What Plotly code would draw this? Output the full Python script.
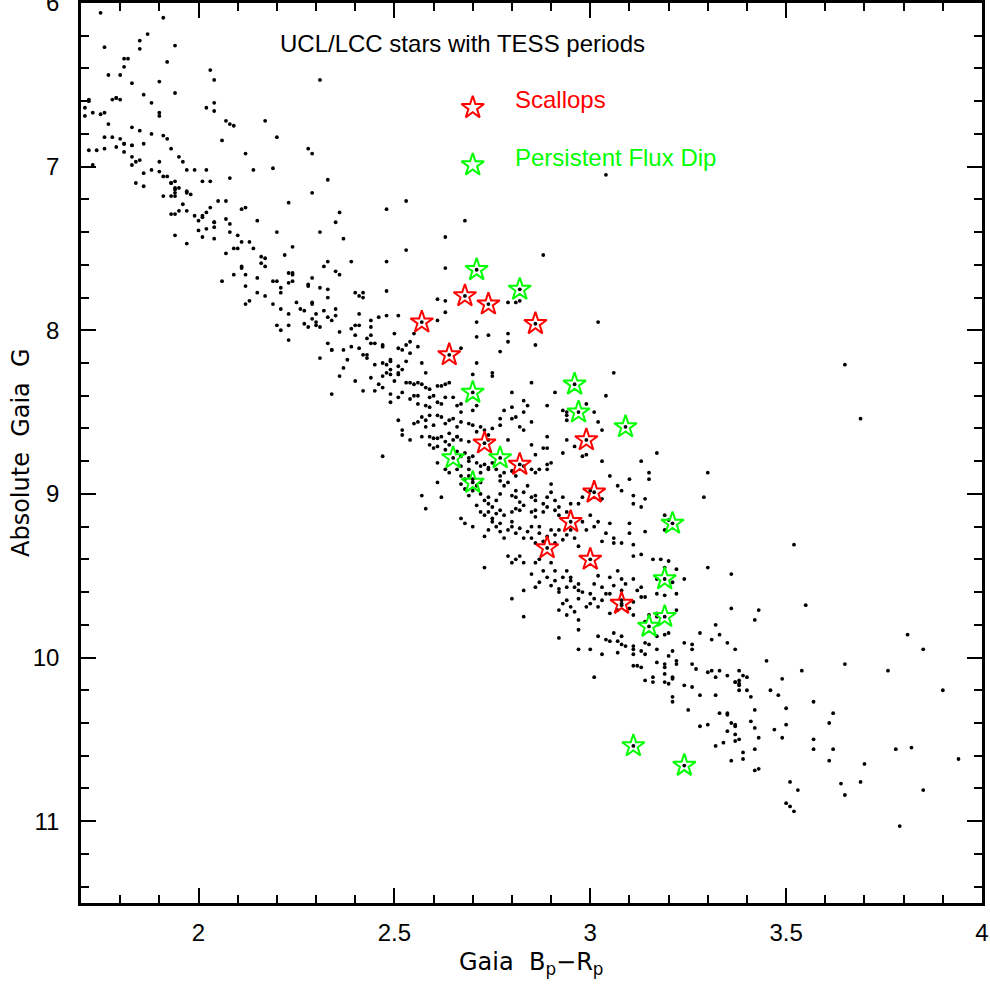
import plotly.graph_objects as go

# Field stars (Gaia Bp-Rp, absolute G)
field = [
 (1.75,6.06),(1.91,6.09),(1.76,6.27),(1.87,6.19),(1.85,6.23),(1.85,6.28),(1.94,6.26),(1.92,6.36),
 (1.82,6.34),(1.81,6.34),(1.81,6.39),(1.77,6.44),(1.80,6.44),(1.83,6.49),(1.90,6.48),(2.03,6.41),
 (2.04,6.47),(1.94,6.55),(1.86,6.56),(1.72,6.59),(1.72,6.60),(1.71,6.64),(1.73,6.67),(1.71,6.69),
 (1.75,6.68),(1.76,6.67),(1.78,6.59),(1.79,6.58),(1.79,6.58),(1.80,6.59),(1.88,6.61),(1.90,6.67),
 (1.90,6.69),(2.02,6.64),(2.04,6.61),(2.04,6.66),(1.77,6.74),(2.07,6.72),(2.08,6.74),(2.09,6.75),
 (2.17,6.72),(2.31,6.47),(1.83,6.76),(1.76,6.82),(1.78,6.82),(1.85,6.78),(1.88,6.80),(1.91,6.81),
 (1.92,6.83),(1.80,6.83),(1.81,6.86),(1.81,6.86),(1.83,6.87),(1.83,6.87),(1.86,6.86),(1.72,6.90),
 (1.74,6.90),(1.76,6.89),(1.79,6.88),(1.81,6.91),(1.83,6.94),(1.84,6.97),(1.85,6.96),(1.83,6.99),
 (1.73,6.99),(1.93,6.89),(1.95,6.94),(1.96,6.97),(1.90,6.97),(1.90,7.03),(1.86,7.04),(1.88,7.02),
 (1.91,7.06),(1.92,7.06),(1.93,7.10),(1.93,7.10),(1.94,7.09),(1.94,7.13),(1.94,7.14),(1.94,7.16),
 (1.93,7.18),(1.94,7.18),(1.95,7.13),(1.97,7.15),(1.97,7.16),(1.98,7.17),(1.84,7.10),(1.86,7.12),
 (1.97,7.02),(1.99,7.02),(2.02,7.02),(2.03,7.09),(2.01,7.09),(2.06,6.84),(2.08,7.07),(2.12,6.92),
 (2.14,7.02),(2.19,7.01),(2.20,6.82),(2.28,6.89),(2.29,6.92),(2.29,7.16),(2.23,7.22),(2.20,7.40),
 (2.31,7.40),(2.33,7.08),(1.91,7.18),(1.93,7.29),(1.94,7.29),(1.95,7.27),(1.96,7.23),(1.97,7.27),
 (2.05,7.21),(2.07,7.21),(2.03,7.25),(2.02,7.28),(2.00,7.33),(1.99,7.30),(2.01,7.30),(2.01,7.31),
 (2.00,7.39),(2.01,7.43),(2.02,7.38),(2.04,7.37),(2.04,7.34),(2.04,7.34),(2.04,7.44),(1.94,7.42),
 (1.97,7.47),(2.07,7.32),(2.08,7.35),(2.08,7.40),(2.10,7.42),(2.09,7.50),(2.10,7.50),(2.11,7.26),
 (2.12,7.25),(2.11,7.46),(2.13,7.46),(2.14,7.50),(2.15,7.33),(2.07,7.53),(2.16,7.55),(2.17,7.56),
 (2.16,7.59),(2.17,7.61),(2.11,7.61),(2.11,7.62),(2.09,7.66),(2.12,7.66),(2.15,7.68),(2.06,7.70),
 (2.12,7.73),(2.12,7.84),(2.13,7.82),(2.15,7.77),(2.17,7.79),(2.19,7.84),(2.19,7.70),(2.20,7.70),
 (2.22,7.54),(2.21,7.77),(2.21,7.74),(2.24,7.49),(2.23,7.65),(2.24,7.66),(2.24,7.65),(2.24,7.70),
 (2.23,7.71),(2.25,7.83),(2.26,7.87),(2.27,7.88),(2.21,7.87),(2.23,7.90),(2.28,7.73),(2.28,7.72),
 (2.29,7.68),(2.31,7.74),(2.33,7.75),(2.33,7.80),(2.33,7.58),(2.32,7.61),(2.29,7.84),(2.29,7.83),
 (2.30,7.90),(2.29,7.93),(2.30,7.95),(2.31,7.98),(2.32,7.88),(2.33,7.92),(2.20,7.97),(2.23,7.97),
 (2.27,7.96),(2.28,7.98),(2.30,7.97),
 (2.35,7.34),(2.36,7.28),(2.37,7.44),(2.39,7.58),(2.35,7.64),(2.36,7.66),(2.40,7.77),(2.41,7.79),
 (2.42,7.77),(2.42,7.80),(2.48,7.26),(2.53,7.21),(2.53,7.51),(2.48,7.58),(2.48,7.76),(2.68,7.33),
 (2.63,7.43),(2.63,7.62),(2.61,7.81),(2.63,7.82),(2.63,7.89),(2.61,7.94),(2.71,7.95),(2.79,7.83),
 (2.81,7.83),(2.82,7.82),(2.88,7.54),(3.02,7.95),(3.04,7.05),(2.35,7.87),(2.35,7.91),(2.34,7.94),
 (2.41,7.90),(2.40,7.97),(2.41,7.97),(2.44,7.94),(2.46,7.92),(2.48,7.91),(2.51,7.91),(2.44,7.98),
 (2.39,7.99),
 (2.21,8.00),(2.23,8.06),(2.31,8.17),(2.33,8.08),(2.34,8.12),
 (2.36,8.01),(2.40,8.03),(2.44,8.03),(2.43,8.05),(2.50,8.02),(2.55,8.02),(2.71,8.04),(2.74,8.03),
 (2.79,8.02),(2.79,8.07),(2.86,8.09),(2.37,8.12),(2.39,8.10),(2.34,8.12),(2.41,8.11),(2.44,8.08),
 (2.45,8.08),(2.47,8.10),(2.47,8.09),(2.51,8.11),(2.52,8.12),(2.53,8.09),(2.54,8.07),(2.56,8.10),
 (2.67,8.11),(2.77,8.13),(2.42,8.15),(2.43,8.15),(2.43,8.17),(2.38,8.18),(2.45,8.21),(2.47,8.20),
 (2.48,8.21),(2.49,8.18),(2.49,8.19),(2.51,8.22),(2.54,8.14),(2.53,8.19),(2.57,8.20),(2.71,8.20),
 (2.58,8.26),(2.37,8.23),(2.36,8.28),(2.40,8.31),(2.44,8.29),(2.46,8.33),(2.47,8.28),(2.48,8.26),
 (2.49,8.27),(2.50,8.31),(2.49,8.24),(2.51,8.26),(2.51,8.27),(2.52,8.24),(2.53,8.32),(2.54,8.32),
 (2.55,8.33),(2.56,8.32),(2.57,8.33),(2.58,8.35),(2.59,8.36),(2.61,8.34),(2.62,8.34),(2.63,8.33),
 (2.64,8.32),(2.70,8.27),(2.75,8.26),(2.75,8.28),(2.85,8.32),(2.91,8.38),(3.06,8.26),(3.04,8.40),
 (2.42,8.37),(2.45,8.37),(2.47,8.35),(2.49,8.39),(2.49,8.44),(2.51,8.41),(2.52,8.38),(2.54,8.42),
 (2.55,8.40),(2.56,8.40),(2.56,8.45),(2.58,8.46),(2.59,8.41),(2.59,8.47),(2.60,8.40),(2.61,8.44),
 (2.62,8.45),(2.63,8.41),(2.65,8.41),(2.66,8.46),(2.67,8.50),(2.67,8.45),(2.65,8.54),(2.70,8.49),
 (2.71,8.46),(2.80,8.38),(2.83,8.43),(2.84,8.46),(2.78,8.49),(2.80,8.47),(2.83,8.50),(2.89,8.46),
 (2.93,8.49),(2.94,8.52),(2.94,8.50),(2.94,8.55),(2.99,8.45),(3.01,8.50),(3.02,8.56),(2.34,8.39),
 (2.51,8.55),(2.52,8.61),(2.52,8.64),(2.54,8.67),(2.55,8.57),(2.56,8.56),(2.57,8.53),(2.58,8.59),
 (2.58,8.55),(2.59,8.52),(2.60,8.58),(2.61,8.52),(2.62,8.53),(2.63,8.57),(2.64,8.55),(2.66,8.59),
 (2.67,8.56),(2.69,8.57),(2.70,8.58),(2.71,8.62),(2.72,8.59),(2.73,8.61),(2.74,8.64),(2.74,8.67),
 (2.75,8.60),(2.77,8.58),(2.77,8.54),(2.80,8.54),(2.81,8.53),(2.82,8.59),(2.85,8.56),(2.83,8.61),
 (2.79,8.67),(2.57,8.65),(2.59,8.65),(2.60,8.66),(2.61,8.66),(2.62,8.65),(2.63,8.68),(2.64,8.63),
 (2.65,8.67),(2.66,8.65),(2.66,8.65),(2.67,8.67),(2.69,8.68),(2.89,8.65),(2.94,8.67),(3.03,8.61),
 (2.98,8.77),(2.99,8.76),(3.17,8.75),
 (2.47,8.77),(2.59,8.70),(2.60,8.72),(2.61,8.71),(2.63,8.73),(2.64,8.70),(2.66,8.74),(2.67,8.77),
 (2.68,8.75),(2.69,8.80),(2.69,8.78),(2.70,8.77),(2.71,8.81),(2.72,8.83),(2.73,8.82),(2.74,8.85),
 (2.74,8.84),(2.75,8.81),(2.69,8.85),(2.67,8.83),(2.61,8.81),(2.63,8.85),(2.64,8.87),(2.66,8.85),
 (2.67,8.89),(2.68,8.91),(2.69,8.89),(2.70,8.91),(2.72,8.93),(2.72,8.87),(2.76,8.85),(2.77,8.89),
 (2.77,8.92),(2.78,8.87),(2.80,8.86),(2.81,8.89),(2.83,8.83),(2.85,8.70),(2.86,8.76),(2.88,8.72),
 (2.89,8.72),(2.85,8.85),(2.86,8.87),(2.87,8.85),(2.89,8.82),(2.89,8.85),(2.90,8.81),(2.93,8.75),
 (2.96,8.71),(3.03,8.80),(3.13,8.80),(3.15,8.87),(3.15,8.91),
 (2.57,9.01),(2.58,9.09),(2.61,8.93),(2.62,9.02),(2.67,8.94),(2.68,8.97),(2.69,9.01),(2.70,8.98),
 (2.71,8.95),(2.72,9.00),(2.73,9.04),(2.74,9.06),(2.74,9.02),(2.75,9.08),(2.76,9.04),(2.77,9.00),
 (2.78,8.95),(2.79,8.93),(2.80,9.01),(2.81,8.98),(2.81,9.02),(2.82,9.05),(2.83,8.99),(2.84,8.95),
 (2.85,9.02),(2.86,9.04),(2.86,9.01),(2.88,9.06),(2.89,9.02),(2.90,8.94),(2.90,8.99),(2.91,9.04),
 (2.92,9.08),(2.93,9.02),(2.95,9.06),(2.97,9.06),(2.98,9.02),(3.00,8.98),(3.03,9.03),(3.05,8.89),
 (3.07,8.95),(3.08,8.98),(3.11,9.01),(3.11,9.06),(3.13,9.08),(3.14,9.03),(3.10,8.91),(2.71,9.07),
 (2.72,9.11),(2.73,9.13),(2.74,9.11),(2.75,9.15),(2.76,9.12),(2.77,9.10),(2.78,9.13),(2.80,9.11),
 (2.81,9.09),(2.82,9.10),(2.83,9.07),(2.85,9.11),(2.86,9.14),(2.86,9.10),(2.88,9.11),(2.89,9.08),
 (2.91,9.10),(2.92,9.13),(2.94,9.11),
 (2.67,9.15),(2.68,9.18),(2.70,9.20),(2.73,9.26),(2.74,9.22),(2.75,9.17),(2.76,9.20),(2.77,9.23),
 (2.77,9.18),(2.78,9.27),(2.79,9.22),(2.80,9.20),(2.80,9.17),(2.81,9.24),(2.82,9.21),(2.83,9.27),
 (2.84,9.23),(2.85,9.20),(2.85,9.27),(2.86,9.30),(2.87,9.24),(2.87,9.20),(2.88,9.29),(2.89,9.26),
 (2.90,9.22),(2.91,9.25),(2.91,9.30),(2.92,9.22),(2.93,9.28),(2.94,9.25),(2.95,9.22),(2.96,9.27),
 (2.97,9.32),(2.98,9.17),(2.99,9.22),(3.00,9.13),(3.01,9.20),(3.02,9.17),(3.03,9.29),(3.04,9.24),
 (3.05,9.18),(3.06,9.27),(3.06,9.30),(3.08,9.30),(3.10,9.24),(3.10,9.18),(3.11,9.31),(3.11,9.38),
 (3.13,9.37),(3.14,9.23),(3.16,9.40),(3.18,9.40),
 (2.73,9.45),(2.79,9.38),(2.80,9.42),(2.81,9.40),(2.82,9.38),(2.83,9.42),(2.85,9.49),(2.86,9.42),
 (2.87,9.40),(2.88,9.47),(2.89,9.51),(2.90,9.42),(2.90,9.56),(2.91,9.53),(2.91,9.47),(2.92,9.58),
 (2.93,9.51),(2.94,9.47),(2.94,9.57),(2.95,9.53),(2.95,9.51),(2.96,9.57),(2.97,9.59),(2.97,9.55),
 (2.98,9.60),(3.00,9.61),(3.01,9.55),(3.02,9.50),(3.03,9.57),(3.05,9.51),(3.05,9.61),(3.06,9.56),
 (3.07,9.47),(3.08,9.52),(3.08,9.59),(3.09,9.55),(3.11,9.52),(3.12,9.59),(3.13,9.57),(3.14,9.63),
 (3.17,9.61),(3.17,9.52),(2.83,9.59),(2.86,9.57),(2.87,9.54),(2.92,9.60),
 (2.80,9.64),(2.83,9.75),(2.92,9.71),(2.93,9.67),(2.94,9.65),(2.95,9.69),(2.94,9.74),(2.96,9.72),
 (2.97,9.64),(2.97,9.77),(2.99,9.69),(3.00,9.67),(3.01,9.64),(3.02,9.69),(3.03,9.65),(3.04,9.61),
 (3.05,9.73),(3.07,9.71),(3.08,9.65),(3.08,9.68),(3.10,9.70),(3.11,9.74),(3.11,9.66),(3.13,9.63),
 (3.14,9.78),(3.15,9.74),(3.17,9.73),(3.17,9.75),(2.92,9.88),(2.97,9.83),(3.02,9.87),(3.04,9.89),
 (3.05,9.90),(3.06,9.85),(3.07,9.90),(3.08,9.92),(3.08,9.87),(3.09,9.93),(3.11,9.93),(3.11,9.95),
 (3.13,9.96),(3.14,9.98),(3.15,9.92),(3.17,9.95),(3.17,9.87),(2.97,9.95),(3.00,9.95),(3.03,9.98),
 (3.07,9.97),(3.11,9.98),(3.14,9.91),
 (3.19,9.13),(3.19,9.22),(3.20,9.16),(3.19,9.45),(3.20,9.41),(3.22,9.46),(3.21,9.54),(3.19,9.62),
 (3.22,9.61),(3.24,9.52),(3.22,9.71),(3.30,9.45),(3.36,9.49),(3.36,9.70),(3.42,9.77),(3.43,9.71),
 (3.32,9.80),(3.33,9.86),(3.31,9.89),(3.35,9.91),(3.37,9.95),(3.28,9.85),(3.24,9.91),(3.26,9.92),
 (3.26,9.95),(3.21,9.96),(3.20,9.99),(3.19,9.86),(3.20,9.85),(3.29,9.02),(3.30,8.87),(3.52,9.31),
 (3.55,9.68),(3.65,8.21),(3.69,8.54),(3.81,9.86),(3.85,9.95),
 (3.01,10.12),(3.11,10.05),(3.12,10.05),(3.13,10.06),(3.14,10.14),(3.16,10.15),(3.16,10.12),(3.17,10.03),
 (3.19,10.04),(3.19,10.06),(3.19,10.10),(3.19,10.15),(3.20,10.16),(3.21,10.13),(3.21,10.12),(3.21,10.24),
 (3.21,10.27),(3.22,10.04),(3.22,10.02),(3.24,10.17),(3.26,10.18),(3.26,10.04),(3.25,10.32),(3.27,10.07),
 (3.28,10.23),(3.28,10.42),(3.30,10.41),(3.30,10.09),(3.31,10.08),(3.32,10.12),(3.33,10.08),(3.32,10.23),
 (3.33,10.34),(3.32,10.54),(3.34,10.52),(3.35,10.11),(3.35,10.45),(3.35,10.35),(3.35,10.34),(3.36,10.40),
 (3.36,10.63),(3.37,10.41),(3.37,10.42),(3.37,10.15),(3.37,10.15),(3.38,10.16),(3.38,10.17),(3.38,10.08),
 (3.39,10.11),(3.38,10.14),(3.38,10.20),(3.37,10.47),(3.37,10.51),(3.38,10.50),(3.39,10.58),(3.39,10.62),
 (3.40,10.12),(3.40,10.20),(3.41,10.24),(3.41,10.39),(3.42,10.32),(3.42,10.43),(3.42,10.56),(3.43,10.49),
 (3.43,10.68),(3.42,10.69),(3.45,10.02),(3.46,10.20),(3.47,10.44),(3.48,10.23),(3.49,10.13),(3.49,10.49),
 (3.50,10.31),(3.50,10.41),(3.51,10.76),(3.50,10.89),(3.51,10.91),(3.52,10.94),(3.53,10.81),(3.54,10.08),
 (3.57,10.27),(3.57,10.50),(3.57,10.56),(3.61,10.40),(3.61,10.63),(3.62,10.56),(3.62,10.34),(3.64,10.77),
 (3.65,10.04),(3.65,10.84),(3.69,10.76),(3.70,10.65),(3.76,10.08),(3.78,10.56),(3.79,11.03),(3.82,10.55),
 (3.85,10.81),(3.90,10.20),(3.94,10.62),
]
field_x = [p[0] for p in field]
field_y = [p[1] for p in field]

# Scallop-shell stars (red)
scallop_x = [2.57, 2.68, 2.74, 2.86, 2.64, 2.73, 2.82, 2.99, 3.01, 2.95, 2.89, 3.00, 3.08]
scallop_y = [7.95, 7.79, 7.84, 7.96, 8.15, 8.69, 8.82, 8.67, 8.99, 9.17, 9.33, 9.40, 9.67]

# Persistent flux dip stars (green)
dip_x = [2.71, 2.82, 2.70, 2.65, 2.77, 2.70, 2.96, 2.97, 3.09, 3.15, 3.21, 3.19, 3.19, 3.11, 3.24]
dip_y = [7.63, 7.75, 8.38, 8.78, 8.78, 8.93, 8.33, 8.50, 8.59, 9.81, 9.18, 9.52, 9.75, 10.54, 10.66]

# key symbols and labels
key_x = [2.70, 2.70]
key_y = [6.64, 6.99]
key_label_x = 2.803
key_label_y = [6.59, 6.945]
key_labels = ["Scallops", "Persistent Flux Dip"]
key_colors = ["#ff0000", "#00ff00"]
title_text = "UCL/LCC stars with TESS periods"

RED = "#ff0000"
GREEN = "#00ff00"
SANS = "Liberation Sans, Arial, Helvetica, sans-serif"
TITLEFONT = "DejaVu Sans, sans-serif"
STAR_SIZE = 17

fig = go.Figure()
fig.add_trace(go.Scatter(x=field_x + scallop_x + dip_x, y=field_y + scallop_y + dip_y,
                         mode="markers", marker=dict(color="black", size=3.8, line=dict(width=0)),
                         showlegend=False, hoverinfo="skip"))
fig.add_trace(go.Scatter(x=scallop_x, y=scallop_y, mode="markers",
                         marker=dict(symbol="star-open", size=STAR_SIZE, color=RED, line=dict(width=2, color=RED)),
                         showlegend=False))
fig.add_trace(go.Scatter(x=dip_x, y=dip_y, mode="markers",
                         marker=dict(symbol="star-open", size=STAR_SIZE, color=GREEN, line=dict(width=2, color=GREEN)),
                         showlegend=False))
fig.add_trace(go.Scatter(x=key_x, y=key_y, mode="markers",
                         marker=dict(symbol="star-open", size=STAR_SIZE, color=key_colors, line=dict(width=2, color=key_colors)),
                         showlegend=False))

fig.add_annotation(x=2.203, y=6.25, xref="x", yref="y", text=title_text,
                   showarrow=False, xanchor="left", yanchor="middle",
                   font=dict(family=SANS, size=24, color="black"))
for lbl, ly, col in zip(key_labels, key_label_y, key_colors):
    fig.add_annotation(x=key_label_x, y=ly, xref="x", yref="y", text=lbl,
                       showarrow=False, xanchor="left", yanchor="middle",
                       font=dict(family=SANS, size=24, color=col))

# axis titles
fig.add_annotation(x=0.5, y=-60/900, xref="paper", yref="paper",
                   text="Gaia  B<sub>p</sub>−R<sub>p</sub>", showarrow=False,
                   xanchor="center", yanchor="middle",
                   font=dict(family=TITLEFONT, size=24, color="black"))
fig.add_annotation(x=-60/901, y=0.5, xref="paper", yref="paper",
                   text="Absolute  Gaia  G", showarrow=False, textangle=-90,
                   xanchor="center", yanchor="middle",
                   font=dict(family=TITLEFONT, size=24, color="black"))

axis_common = dict(showgrid=False, zeroline=False, showline=True, linecolor="black", linewidth=2.5,
                   mirror="allticks", ticks="inside", ticklen=15, tickwidth=2, tickcolor="black",
                   automargin=False, ticklabeloverflow="allow",
                   tickfont=dict(family=SANS, size=24, color="black"))

fig.update_xaxes(range=[1.7, 4.0], tickmode="linear", tick0=0, dtick=0.5,
                 minor=dict(ticks="inside", ticklen=8, tickwidth=2, tickcolor="black", tick0=0, dtick=0.1),
                 ticklabelstandoff=6, **axis_common)
fig.update_yaxes(range=[11.5, 6.0], tickmode="linear", tick0=0, dtick=1,
                 minor=dict(ticks="inside", ticklen=8, tickwidth=2, tickcolor="black", tick0=0, dtick=0.2),
                 ticklabelstandoff=14, **axis_common)

fig.update_layout(width=990, height=984, margin=dict(l=81, r=8, t=3, b=81, autoexpand=False),
                  plot_bgcolor="white", paper_bgcolor="white", showlegend=False)

fig.write_html("out.html", config={"displayModeBar": False},
               post_script="document.body.style.margin='0px';document.body.style.padding='0px';"
                           "document.documentElement.style.overflow='hidden';")
